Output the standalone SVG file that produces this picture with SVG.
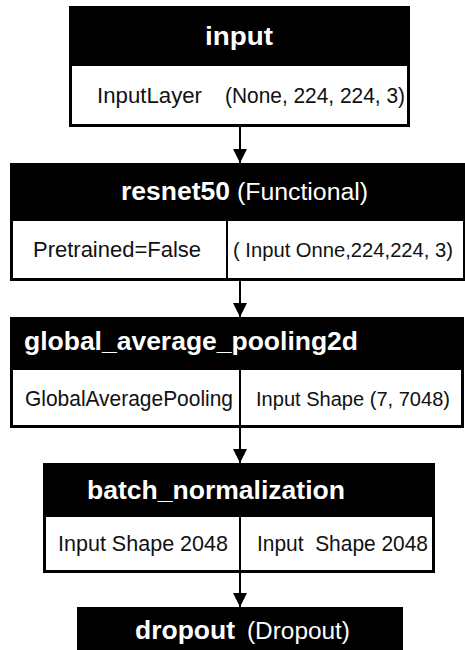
<svg xmlns="http://www.w3.org/2000/svg" width="465" height="650" viewBox="0 0 465 650">
<style>
.frame{fill:#000}
.body{fill:#fff}
.div{stroke:#000;stroke-width:2;fill:none}
.h{font-family:"Liberation Sans",Arial,sans-serif;font-weight:bold;font-size:25px;fill:#fff}
.hs{font-family:"Liberation Sans",Arial,sans-serif;font-weight:normal;font-size:23px;fill:#fff}
.t{font-family:"Liberation Sans",Arial,sans-serif;font-size:22px;fill:#111;white-space:pre}
.edge{stroke:#000;stroke-width:2;fill:none}
</style>
<defs>
<marker id="arr" markerUnits="userSpaceOnUse" markerWidth="16" markerHeight="14" refX="14" refY="7" orient="auto">
<path d="M0,0 L14,7 L0,14 Z" fill="#000"/>
</marker>
</defs>
<rect width="465" height="650" fill="#fff"/>
<g id="connectors">
<line class="edge" x1="240" y1="127" x2="240" y2="163" marker-end="url(#arr)"/>
<line class="edge" x1="240" y1="281" x2="240" y2="317" marker-end="url(#arr)"/>
<line class="edge" x1="240" y1="428" x2="240" y2="463" marker-end="url(#arr)"/>
<line class="edge" x1="240" y1="573" x2="240" y2="607" marker-end="url(#arr)"/>
</g>
<g id="node-input">
<rect class="frame" x="69" y="6" width="341" height="121"/>
<rect class="body" x="72" y="66" width="335" height="58"/>
<text class="h" x="205" y="45" textLength="68" lengthAdjust="spacingAndGlyphs">input</text>
<text class="t" x="97" y="103" textLength="105" lengthAdjust="spacingAndGlyphs">InputLayer</text>
<text class="t" x="225" y="103" textLength="180" lengthAdjust="spacingAndGlyphs">(None, 224, 224, 3)</text>
</g>
<g id="node-resnet50">
<rect class="frame" x="10" y="163" width="455" height="118"/>
<rect class="body" x="13" y="221" width="450" height="57"/>
<line class="div" x1="227" y1="221" x2="227" y2="278"/>
<text class="h" x="121" y="200" textLength="109" lengthAdjust="spacingAndGlyphs">resnet50</text>
<text class="hs" x="237" y="200" textLength="131" lengthAdjust="spacingAndGlyphs">(Functional)</text>
<text class="t" x="33" y="257" textLength="168" lengthAdjust="spacingAndGlyphs">Pretrained=False</text>
<text class="t" x="233" y="257" style="font-size:20px" textLength="220" lengthAdjust="spacingAndGlyphs">( Input Onne,224,224, 3)</text>
</g>
<g id="node-global_average_pooling2d">
<rect class="frame" x="10" y="317" width="454" height="111"/>
<rect class="body" x="13" y="370" width="448" height="55"/>
<line class="div" x1="240" y1="370" x2="240" y2="425"/>
<text class="h" x="24" y="350" textLength="334" lengthAdjust="spacingAndGlyphs">global_average_pooling2d</text>
<text class="t" x="25" y="406" textLength="208" lengthAdjust="spacingAndGlyphs">GlobalAveragePooling</text>
<text class="t" x="256" y="406" style="font-size:20px" textLength="194" lengthAdjust="spacingAndGlyphs">Input Shape (7, 7048)</text>
</g>
<g id="node-batch_normalization">
<rect class="frame" x="43" y="463" width="392" height="110"/>
<rect class="body" x="46" y="517" width="386" height="53"/>
<line class="div" x1="240" y1="517" x2="240" y2="570"/>
<text class="h" x="87" y="499" textLength="258" lengthAdjust="spacingAndGlyphs">batch_normalization</text>
<text class="t" x="58" y="551" textLength="170" lengthAdjust="spacingAndGlyphs">Input Shape 2048</text>
<text class="t" x="257" y="551" textLength="171" lengthAdjust="spacingAndGlyphs">Input  Shape 2048</text>
</g>
<g id="node-dropout">
<rect class="frame" x="77" y="607" width="326" height="50"/>
<text class="h" x="135" y="639" textLength="100" lengthAdjust="spacingAndGlyphs">dropout</text>
<text class="hs" x="247" y="639" textLength="103" lengthAdjust="spacingAndGlyphs">(Dropout)</text>
</g>
</svg>
